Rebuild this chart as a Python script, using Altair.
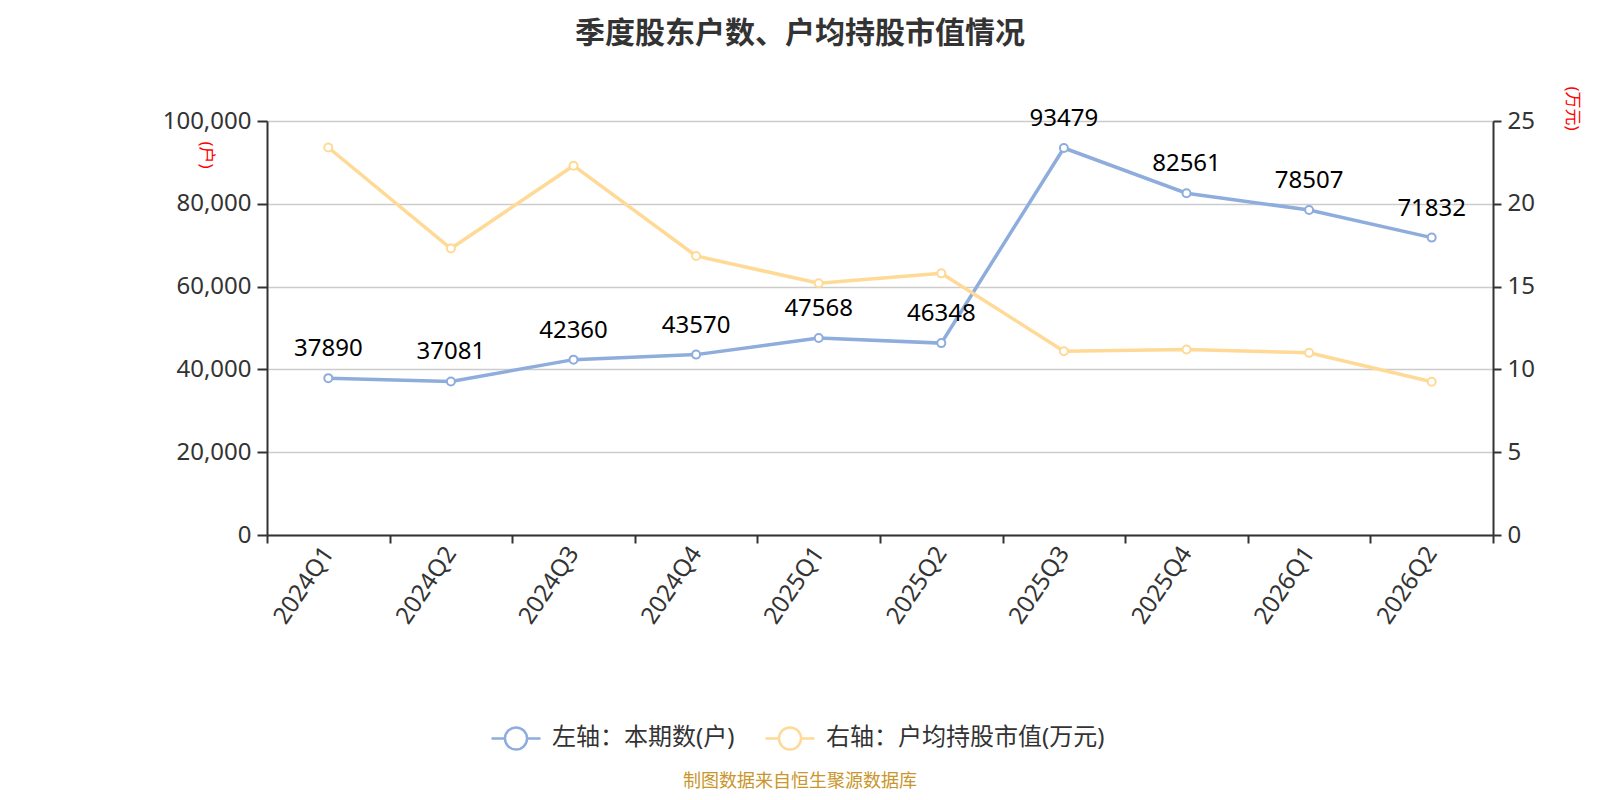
import altair as alt
import pandas as pd

quarters = ["2024Q1", "2024Q2", "2024Q3", "2024Q4", "2025Q1",
            "2025Q2", "2025Q3", "2025Q4", "2026Q1", "2026Q2"]
holders = [37890, 37081, 42360, 43570, 47568, 46348, 93479, 82561, 78507, 71832]
avg_value = [23.4, 17.3, 22.3, 16.85, 15.2, 15.8, 11.1, 11.2, 11.0, 9.25]

series_names = ["左轴：本期数(户)", "右轴：户均持股市值(万元)"]
series_colors = ["#8eaddc", "#ffd996"]

df = pd.DataFrame({"quarter": quarters, "holders": holders, "avg": avg_value})
foot = pd.DataFrame({"t": ["制图数据来自恒生聚源数据库"]})

FONT = "Noto Sans, Noto Sans CJK SC"
W, H = 1226, 414

color_scale = alt.Scale(domain=series_names, range=series_colors)
sym = "M-1,0L-0.45,0M0.45,0L1,0M0.45,0A0.45,0.45,0,1,1,-0.45,0A0.45,0.45,0,1,1,0.45,0Z"
legend = alt.Legend(
    title=None, orient="none", direction="horizontal",
    legendX=223, legendY=591, padding=0,
    symbolType=sym, symbolSize=2401, symbolStrokeWidth=2.5,
    symbolFillColor="white", labelFontSize=24, labelColor="#333",
    labelFont=FONT, labelOffset=10, columnPadding=25, labelLimit=500,
)

x_enc = alt.X(
    "quarter:N", sort=quarters,
    scale=alt.Scale(type="band", paddingInner=0, paddingOuter=0),
    axis=alt.Axis(
        title=None, tickBand="extent", labelAngle=304, labelAlign="right",
        labelBaseline="middle", labelFontSize=24, labelColor="#333",
        labelFont=FONT, labelPadding=6, tickSize=8, tickWidth=2,
        tickColor="#333", domainColor="#333", domainWidth=2, grid=False,
    ),
)

point_def = alt.OverlayMarkDef(filled=False, fill="white", size=64, strokeWidth=2)

blue_line = alt.Chart(df).transform_calculate(
    series=f"'{series_names[0]}'"
).mark_line(strokeWidth=3.5, point=point_def).encode(
    x=x_enc,
    y=alt.Y(
        "holders:Q",
        scale=alt.Scale(domain=[0, 100000]),
        axis=alt.Axis(
            orient="left", title="(户)", titleAngle=90, titleAlign="left",
            titleBaseline="middle", titleX=-62, titleY=20, titleColor="red",
            titleFontSize=17, titleFontWeight="normal", titleFont=FONT,
            values=[0, 20000, 40000, 60000, 80000, 100000], format=",d",
            labelFontSize=24, labelColor="#333", labelFont=FONT, labelPadding=6,
            tickSize=10, tickWidth=2, tickColor="#333", domainColor="#333",
            domainWidth=2, grid=True, gridColor="#cccccc", gridWidth=1.5,
        ),
    ),
    color=alt.Color("series:N", scale=color_scale, legend=legend),
)

blue_text = alt.Chart(df).mark_text(
    dy=-22, baseline="alphabetic", fontSize=24, color="black", font=FONT
).encode(
    x=alt.X("quarter:N", sort=quarters),
    y=alt.Y("holders:Q"),
    text=alt.Text("holders:Q", format="d"),
)

yellow_line = alt.Chart(df).transform_calculate(
    series=f"'{series_names[1]}'"
).mark_line(strokeWidth=3.5, point=point_def).encode(
    x=alt.X("quarter:N", sort=quarters),
    y=alt.Y(
        "avg:Q",
        scale=alt.Scale(domain=[0, 25]),
        axis=alt.Axis(
            orient="right", title="(万元)", titleAngle=90, titleAlign="left",
            titleBaseline="middle", titleX=78, titleY=-35, titleColor="red",
            titleFontSize=17, titleFontWeight="normal", titleFont=FONT,
            values=[0, 5, 10, 15, 20, 25],
            labelFontSize=24, labelColor="#333", labelFont=FONT, labelPadding=6,
            tickSize=8, tickWidth=2, tickColor="#333", domainColor="#333",
            domainWidth=2, grid=False,
        ),
    ),
    color=alt.Color("series:N", scale=color_scale, legend=legend),
)

footer = alt.Chart(foot).mark_text(
    fontSize=18, color="#c9962b", font=FONT, align="center", baseline="middle"
).encode(
    x=alt.value(533), y=alt.value(661), text="t:N"
)

left_layer = alt.layer(blue_line, blue_text)

chart = alt.layer(left_layer, yellow_line, footer).resolve_scale(
    y="independent"
).properties(
    width=W, height=H,
    title=alt.TitleParams(
        "季度股东户数、户均持股市值情况", fontSize=30, fontWeight="bold",
        color="#333", font=FONT, anchor="middle", dx=-80, offset=37,
    ),
    autosize=alt.AutoSizeParams(type="none"),
    padding={"left": 259, "top": 113, "right": 99, "bottom": 257},
).configure_view(stroke=None)

chart.save("out.html", embed_options={"renderer": "svg", "actions": False})
